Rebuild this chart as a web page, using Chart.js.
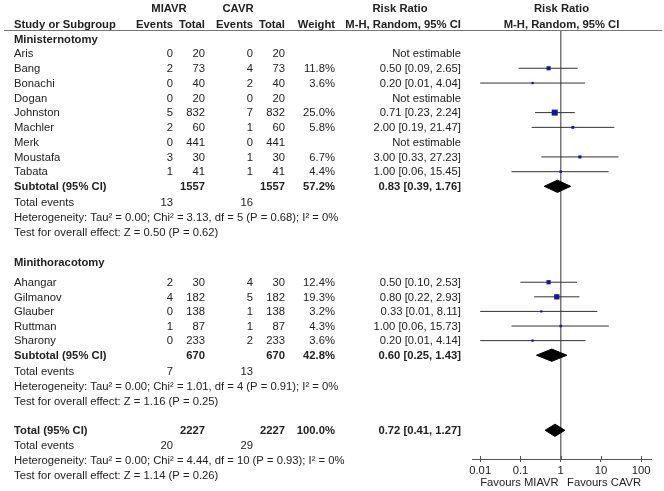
<!DOCTYPE html>
<html><head><meta charset="utf-8">
<script src="https://cdn.jsdelivr.net/npm/chart.js@4.4.0/dist/chart.umd.min.js"></script>
<style>html,body{margin:0;padding:0;background:#fff;}canvas{display:block;}</style>
</head><body>
<canvas id="c" width="664" height="491"></canvas>
<script>
// ---------------- DATA ----------------
const groupNames = ['Ministernotomy', 'Minithoracotomy'];
const studyNames = ['Aris','Bang','Bonachi','Dogan','Johnston','Machler','Merk','Moustafa','Tabata',
                    'Ahangar','Gilmanov','Glauber','Ruttman','Sharony'];
const studyGroup = [0,0,0,0,0,0,0,0,0, 1,1,1,1,1];
const miavrEvents = [0,2,0,0,5,2,0,3,1, 2,4,0,1,0];
const miavrTotal  = [20,73,40,20,832,60,441,30,41, 30,182,138,87,233];
const cavrEvents  = [0,4,2,0,7,1,0,1,1, 4,5,1,1,2];
const cavrTotal   = [20,73,40,20,832,60,441,30,41, 30,182,138,87,233];
const weightPct   = [null,11.8,3.6,null,25.0,5.8,null,6.7,4.4, 12.4,19.3,3.2,4.3,3.6];
const riskRatio   = [null,0.50,0.20,null,0.71,2.00,null,3.00,1.00, 0.50,0.80,0.33,1.00,0.20];
const ciLow       = [null,0.09,0.01,null,0.23,0.19,null,0.33,0.06, 0.10,0.22,0.01,0.06,0.01];
const ciHigh      = [null,2.65,4.04,null,2.24,21.47,null,27.23,15.45, 2.53,2.93,8.11,15.73,4.14];

// subgroup totals (index 0,1) and overall (index 2)
const sumMiavrTotal  = [1557, 670, 2227];
const sumCavrTotal   = [1557, 670, 2227];
const sumWeight      = [57.2, 42.8, 100.0];
const sumRR          = [0.83, 0.60, 0.72];
const sumLow         = [0.39, 0.25, 0.41];
const sumHigh        = [1.76, 1.43, 1.27];
const sumMiavrEvents = [13, 7, 20];
const sumCavrEvents  = [16, 13, 29];
const hetTau2 = [0.00, 0.00, 0.00];
const hetChi2 = [3.13, 1.01, 4.44];
const hetDf   = [5, 4, 10];
const hetP    = [0.68, 0.91, 0.93];
const hetI2   = [0, 0, 0];
const testZ   = [0.50, 1.16, 1.14];
const testP   = [0.62, 0.25, 0.26];

const tickValues = [0.01, 0.1, 1, 10, 100];
const tickLabels = ['0.01', '0.1', '1', '10', '100'];
const favourLabels = ['Favours MIAVR', 'Favours CAVR'];

// ---------------- LAYOUT ----------------
const FONT = '"Liberation Sans", Arial, sans-serif';
const FS = 11.25;
const TXT = '#222';
const TEXT_DY = 0.6;
const COL = { name: 14, e1: 173, t1: 205, e2: 253, t2: 285, w: 335, rr: 461 };
// rows in "row units" (1 unit = one table line)
const U = { hdr1: -3.08, hdr2: -1.98, rule: -1.575 };
const rows = [];
(function buildRows(){
  let u = -0.94;
  for (let g = 0; g < 2; g++) {
    rows.push({kind:'group', g, u});
    u += (g === 0 ? 0.94 : 1.38);
    studyNames.forEach((n,i) => { if (studyGroup[i] === g) { rows.push({kind:'study', i, u}); u += (g === 0 ? 1.012 : 1); } });
    if (g === 0) u -= 0.012;
    rows.push({kind:'sub', g, u}); u += 1.1;
    rows.push({kind:'te', g, u}); u += 1.03;
    rows.push({kind:'het', g, u}); u += 1.0;
    rows.push({kind:'test', g, u}); u += 2.06;
  }
  u -= 0.05;
  rows.push({kind:'sub', g:2, u}); u += 1.05;
  rows.push({kind:'te', g:2, u}); u += 1.04;
  rows.push({kind:'het', g:2, u}); u += 1.02;
  rows.push({kind:'test', g:2, u});
})();
const axisU = 27.774;
const Y_MIN = -3.664;
const diamondHalf = 0.42;

// ---------------- DATASETS ----------------
const ciData = [];
const sqData = [];
studyNames.forEach((n, i) => {
  if (riskRatio[i] === null) return;
  const u = rows.find(r => r.kind === 'study' && r.i === i).u;
  ciData.push({x: ciLow[i], y: u}, {x: ciHigh[i], y: u}, {x: null, y: null});
  sqData.push({x: riskRatio[i], y: u, w: weightPct[i]});
});
const diamondSets = sumRR.map((rr, k) => {
  const u = rows.find(r => r.kind === 'sub' && r.g === k).u;
  return {
    type: 'scatter', showLine: true, fill: 'shape', order: 1,
    data: [{x: sumLow[k], y: u}, {x: rr, y: u - diamondHalf}, {x: sumHigh[k], y: u}, {x: rr, y: u + diamondHalf}, {x: sumLow[k], y: u}],
    borderColor: '#000', backgroundColor: '#000', borderWidth: 1, pointRadius: 0, tension: 0
  };
});

const fmt2 = v => v.toFixed(2);
const rrText = (r, l, h) => `${fmt2(r)} [${fmt2(l)}, ${fmt2(h)}]`;

const textPlugin = {
  id: 'forestText',
  afterDraw(chart) {
    const ctx = chart.ctx, ys = chart.scales.y, xs = chart.scales.x;
    const Y = u => ys.getPixelForValue(u);
    const put = (s, x, u, align, bold) => {
      ctx.font = (bold ? 'bold ' : '') + FS + 'px ' + FONT;
      ctx.textAlign = align; ctx.fillText(s, x, Y(u) + TEXT_DY);
    };
    ctx.save();
    ctx.fillStyle = TXT; ctx.textBaseline = 'middle';
    // header
    put('MIAVR', 169, U.hdr1, 'center', true);
    put('CAVR', 238, U.hdr1, 'center', true);
    put('Risk Ratio', 400, U.hdr1, 'center', true);
    const midX = (chart.chartArea.left + chart.chartArea.right) / 2;
    put('Risk Ratio', midX, U.hdr1, 'center', true);
    put('Study or Subgroup', COL.name, U.hdr2, 'left', true);
    put('Events', COL.e1, U.hdr2, 'right', true);
    put('Total', COL.t1, U.hdr2, 'right', true);
    put('Events', COL.e2, U.hdr2, 'right', true);
    put('Total', COL.t2, U.hdr2, 'right', true);
    put('Weight', COL.w, U.hdr2, 'right', true);
    put('M-H, Random, 95% CI', COL.rr, U.hdr2, 'right', true);
    put('M-H, Random, 95% CI', midX, U.hdr2, 'center', true);
    rows.forEach(r => {
      if (r.kind === 'group') put(groupNames[r.g], COL.name, r.u, 'left', true);
      else if (r.kind === 'study') {
        const i = r.i;
        put(studyNames[i], COL.name, r.u, 'left');
        put(String(miavrEvents[i]), COL.e1, r.u, 'right');
        put(String(miavrTotal[i]), COL.t1, r.u, 'right');
        put(String(cavrEvents[i]), COL.e2, r.u, 'right');
        put(String(cavrTotal[i]), COL.t2, r.u, 'right');
        if (weightPct[i] !== null) put(weightPct[i].toFixed(1) + '%', COL.w, r.u, 'right');
        put(riskRatio[i] === null ? 'Not estimable' : rrText(riskRatio[i], ciLow[i], ciHigh[i]), COL.rr, r.u, 'right');
      } else if (r.kind === 'sub') {
        const k = r.g;
        put(k === 2 ? 'Total (95% CI)' : 'Subtotal (95% CI)', COL.name, r.u, 'left', true);
        put(String(sumMiavrTotal[k]), COL.t1, r.u, 'right', true);
        put(String(sumCavrTotal[k]), COL.t2, r.u, 'right', true);
        put(sumWeight[k].toFixed(1) + '%', COL.w, r.u, 'right', true);
        put(rrText(sumRR[k], sumLow[k], sumHigh[k]), COL.rr, r.u, 'right', true);
      } else if (r.kind === 'te') {
        put('Total events', COL.name, r.u, 'left');
        put(String(sumMiavrEvents[r.g]), COL.e1, r.u, 'right');
        put(String(sumCavrEvents[r.g]), COL.e2, r.u, 'right');
      } else if (r.kind === 'het') {
        const k = r.g;
        put(`Heterogeneity: Tau² = ${hetTau2[k].toFixed(2)}; Chi² = ${hetChi2[k].toFixed(2)}, df = ${hetDf[k]} (P = ${hetP[k].toFixed(2)}); I² = ${hetI2[k]}%`, COL.name, r.u, 'left');
      } else if (r.kind === 'test') {
        const k = r.g;
        put(`Test for overall effect: Z = ${testZ[k].toFixed(2)} (P = ${testP[k].toFixed(2)})`, COL.name, r.u, 'left');
      }
    });
    // header rule
    ctx.strokeStyle = '#777'; ctx.lineWidth = 1;
    const ry = Math.round(Y(U.rule)) + 0.5;
    ctx.beginPath(); ctx.moveTo(4, ry); ctx.lineTo(662, ry); ctx.stroke();
    // upward tick stubs
    const ay = chart.chartArea.bottom;
    ctx.strokeStyle = '#555';
    xs.ticks.forEach(t => {
      const px = Math.round(xs.getPixelForValue(t.value)) + 0.5;
      ctx.beginPath(); ctx.moveTo(px, ay - 3); ctx.lineTo(px, ay); ctx.stroke();
    });
    // favours labels
    ctx.fillStyle = TXT; ctx.font = FS + 'px ' + FONT; ctx.textBaseline = 'middle';
    const fy = ay + 24;
    ctx.textAlign = 'left';  ctx.fillText(favourLabels[0], xs.getPixelForValue(tickValues[0]), fy);
    ctx.textAlign = 'right'; ctx.fillText(favourLabels[1], xs.getPixelForValue(tickValues[tickValues.length - 1]), fy);
    ctx.restore();
  }
};

new Chart(document.getElementById('c'), {
  type: 'scatter',
  data: {
    datasets: [
      { type: 'scatter', showLine: true, order: 10, data: [{x: 1, y: U.rule}, {x: 1, y: axisU}],
        borderColor: '#777', borderWidth: 1, pointRadius: 0 },
      { type: 'scatter', showLine: true, spanGaps: false, order: 5, data: ciData,
        borderColor: '#333', borderWidth: 1, pointRadius: 0 },
      { type: 'scatter', data: sqData, pointStyle: 'rect', order: 2,
        pointRadius: ctx => ctx.raw ? (1.2 * Math.sqrt(ctx.raw.w)) / Math.SQRT2 : 0,
        backgroundColor: '#1414a8', borderWidth: 0, pointHoverRadius: 0 },
      ...diamondSets
    ]
  },
  options: {
    responsive: false, animation: false, devicePixelRatio: 1,
    layout: { autoPadding: false, padding: { left: 472, right: 13, top: 0, bottom: 0 } },
    plugins: { legend: { display: false }, tooltip: { enabled: false } },
    events: [],
    scales: {
      x: {
        type: 'logarithmic', position: 'bottom', min: 0.00626, max: 175,
        afterBuildTicks: s => { s.ticks = tickValues.map(v => ({ value: v })); },
        afterFit: s => { s.height = 32; },
        ticks: { callback: (v) => tickLabels[tickValues.indexOf(v)] ?? '', color: TXT,
                 font: { family: FONT, size: FS }, padding: 2, maxRotation: 0, autoSkip: false },
        grid: { drawOnChartArea: false, drawTicks: true, tickLength: 3, color: '#555' },
        border: { display: true, color: '#555', width: 1 }
      },
      y: { type: 'linear', display: false, reverse: true, min: Y_MIN, max: axisU }
    }
  },
  plugins: [textPlugin]
});
</script>
</body></html>
